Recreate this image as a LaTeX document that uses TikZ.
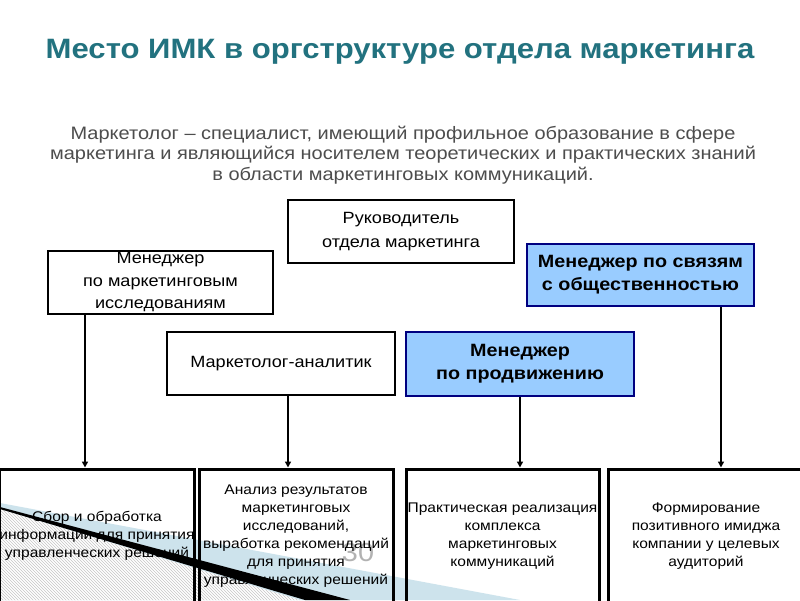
\documentclass[tikz,border=0pt]{standalone}
\usepackage{fontspec}
\setmainfont{Liberation Sans}[FakeStretch=1.11]
\usetikzlibrary{arrows.meta,patterns}
\definecolor{titlec}{HTML}{22727F}
\definecolor{subc}{HTML}{4D4D4D}
\definecolor{boxblue}{HTML}{99CCFF}
\definecolor{navy}{HTML}{000080}
\definecolor{pale}{HTML}{CDE3EC}
\tikzset{
  box/.style={draw=black, line width=1.6pt, fill=white, inner sep=0pt, align=center,
    font=\fontsize{16.3}{22.5}\selectfont},
  bluebox/.style={draw=navy, line width=2pt, fill=boxblue, inner sep=0pt, align=center,
    font=\fontsize{17.8}{23}\selectfont\bfseries},
  lowbox/.style={draw=black, line width=3pt, inner sep=0pt, align=center,
    minimum height=134pt, font=\fontsize{14}{18}\selectfont},
  arr/.style={line width=1.6pt, -{Triangle[width=6pt,length=6pt]}}
}
\begin{document}
\begin{tikzpicture}[x=1pt,y=-1pt]
\useasboundingbox (0,0) rectangle (800,600);
\fill[white] (0,0) rectangle (800,600);
% slide decoration
\fill[pale] (0,503) -- (520,600) -- (0,600) -- cycle;
\fill[white] (0,509) -- (300,600) -- (0,600) -- cycle;
\fill[pattern=north west lines, pattern color=gray!45] (0,509) -- (300,600) -- (0,600) -- cycle;
\fill[black] (0,507) -- (350,600) -- (305,600) -- (0,509) -- cycle;
\node[text=gray!60, font=\fontsize{26}{26}\selectfont] (pg) at (358,553) {30};
% title and text
\node[anchor=base, text=titlec, font=\bfseries\fontsize{28}{28}\selectfont] (title) at (400,58) {Место ИМК в оргструктуре отдела маркетинга};
\node[text=subc, align=center, font=\fontsize{18}{20.5}\selectfont] (sub) at (403,155)
  {Маркетолог – специалист, имеющий профильное образование в сфере\\
   маркетинга и являющийся носителем теоретических и практических знаний\\
   в области маркетинговых коммуникаций.};
% boxes
\node[box, minimum width=226pt, minimum height=63pt, font=\fontsize{16.3}{24}\selectfont] (ruk) at (401,231.5) {Руководитель\\отдела маркетинга};
\node[box, minimum width=225pt, minimum height=63pt] (mmi) at (160.5,282.5) {Менеджер\\по маркетинговым\\исследованиям};
\node[bluebox, minimum width=227pt, minimum height=62pt] (mso) at (640.5,275) {Менеджер по связям\\с общественностью};
\node[box, minimum width=228pt, minimum height=63pt] (ma) at (281,363.5) {Маркетолог-аналитик};
\node[bluebox, minimum width=228pt, minimum height=64pt] (mp) at (520,364) {Менеджер\\по продвижению};
\node[lowbox, minimum width=191.5pt] (b1) at (97,536) {Сбор и обработка\\информации для принятия\\управленческих решений};
\node[lowbox, minimum width=194pt] (b2) at (296,536) {Анализ результатов\\маркетинговых\\исследований,\\выработка рекомендаций\\для принятия\\управленческих решений};
\node[lowbox, minimum width=193pt] (b3) at (502.5,536) {Практическая реализация\\комплекса\\маркетинговых\\коммуникаций};
\node[lowbox, minimum width=196pt] (b4) at (706,536) {Формирование\\позитивного имиджа\\компании у целевых\\аудиторий};
% connectors
\coordinate (x1) at (85,0);
\coordinate (x2) at (288,0);
\coordinate (x3) at (520,0);
\coordinate (x4) at (721,0);
\draw[arr] (mmi.south -| x1) -- (b1.north -| x1);
\draw[arr] (ma.south -| x2) -- (b2.north -| x2);
\draw[arr] (mp.south -| x3) -- (b3.north -| x3);
\draw[arr] (mso.south -| x4) -- (b4.north -| x4);
\end{tikzpicture}
\end{document}
